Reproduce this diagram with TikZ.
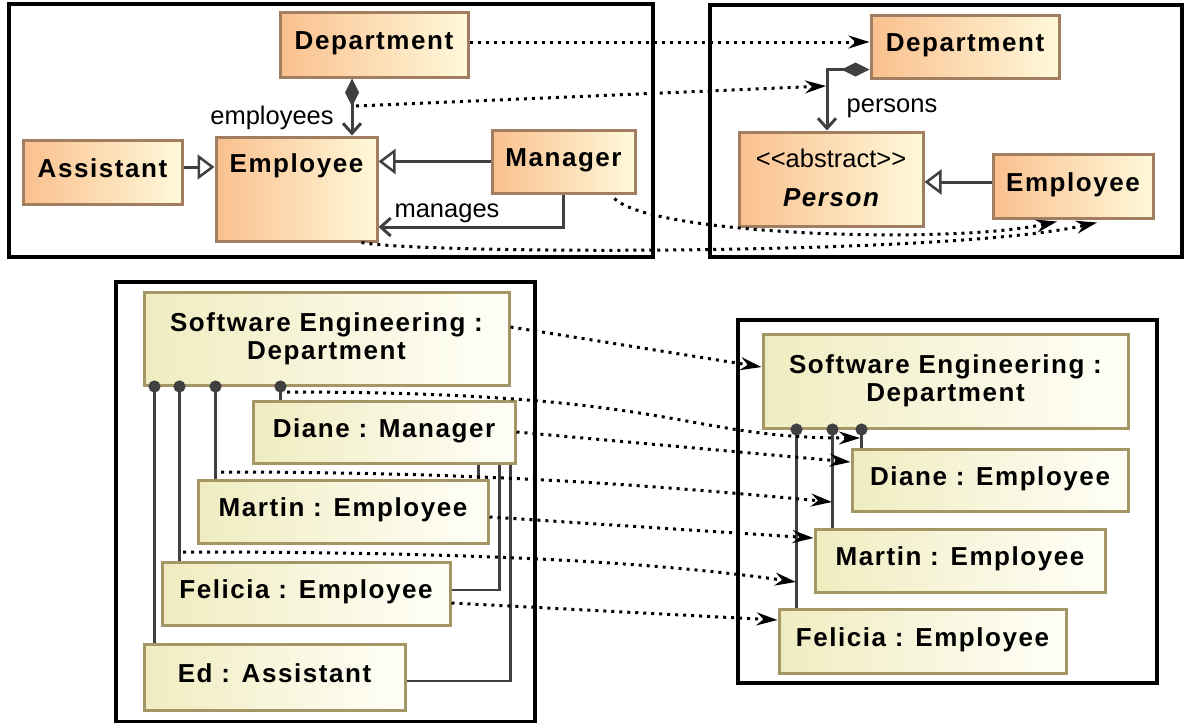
\documentclass[tikz,border=0pt]{standalone}
\usepackage{fontspec}
\setmainfont{Liberation Sans}
\newfontfamily\spacedfont{Liberation Sans}[LetterSpace=6]
\usetikzlibrary{arrows.meta,calc}

\definecolor{clsL}{RGB}{250,192,142}
\definecolor{clsR}{RGB}{255,249,218}
\definecolor{clsB}{RGB}{160,126,95}
\definecolor{objL}{RGB}{240,236,192}
\definecolor{objR}{RGB}{255,255,248}
\definecolor{objB}{RGB}{165,150,102}
\definecolor{lnk}{RGB}{64,64,64}

\begin{document}
\begin{tikzpicture}[x=1pt,y=-1pt,
  frame/.style={draw=black, line width=3.5pt},
  bold/.style={font=\spacedfont\bfseries\fontsize{26}{28}\selectfont, inner sep=0pt},
  boxbase/.style={bold, line width=3pt, inner sep=0pt},
  oneline/.style={text height=19pt, text depth=9pt},
  cls/.style={boxbase, draw=clsB, left color=clsL, right color=clsR},
  obj/.style={boxbase, draw=objB, left color=objL, right color=objR},
  conn/.style={draw=lnk, line width=3pt},
  lbl/.style={font=\fontsize{25.5}{28}\selectfont, inner sep=0pt},
  map/.style={draw=black, line width=3pt, dash pattern=on 3pt off 5pt, -{Stealth[length=21pt,width=13pt,inset=7pt]}},
  gen/.style={conn, -{Triangle[length=17pt,width=25pt,line width=2.5pt,fill=white]}},
  comp/.style={conn, {Diamond[length=28pt,width=14pt]}-{Straight Barb[length=10pt,width=18pt]}},
  link/.style={draw=lnk, line width=2.7pt},
  dotlink/.style={link, {Circle[length=12pt]}-},
]
\useasboundingbox (0,0) rectangle (1186,724);

% frames
\draw[frame] (9,4) rectangle (653,257);
\draw[frame] (710,5) rectangle (1182,257);
\draw[frame] (116,282) rectangle (535,721.5);
\draw[frame] (738,320) rectangle (1157,683);

% ---------- top left: class diagram ----------
\node[cls, oneline, minimum width=188pt, minimum height=65pt] (deptA) at (374,44.5) {Department};
\node[cls, minimum width=161pt, minimum height=104pt] (empA) at (296.5,189) {};
\node[bold, anchor=base] (empAt) at (296.5,172) {Employee};
\node[cls, oneline, minimum width=159pt, minimum height=64pt] (asst) at (102.5,172) {Assistant};
\node[cls, oneline, minimum width=143pt, minimum height=63pt] (mgr) at (563.5,161.5) {Manager};

\draw[comp] ([xshift=-22pt]deptA.south) -- ([xshift=-22pt]deptA.south |- empA.north);
\node[lbl, anchor=base] (lEmp) at (272,124) {employees};
\draw[gen] ([yshift=5pt]asst.east) -- ([yshift=5pt]asst.east -| empA.west);
\draw[gen] (mgr.west) -- (mgr.west -| empA.east);
\draw[conn, -{Straight Barb[length=10pt,width=18pt]}] (mgr.south) |- ([yshift=-38pt]empA.east);
\node[lbl, anchor=base] (lMan) at (447,217) {manages};

% ---------- top right: class diagram ----------
\node[cls, oneline, minimum width=188pt, minimum height=63pt] (deptB) at (965,46.5) {Department};
\node[cls, minimum width=184pt, minimum height=94pt] (person) at (831,179) {};
\node[lbl, anchor=base] (perA) at (831,167) {<{}<abstract>{}>};
\node[bold, font=\spacedfont\bfseries\itshape\fontsize{26}{28}\selectfont, anchor=base] (perN) at (831,206) {Person};
\node[cls, oneline, minimum width=160pt, minimum height=64pt] (empB) at (1073,186) {Employee};

\draw[comp] ([yshift=10pt]deptB.south west) -| ([xshift=-4pt]person.north);
\node[lbl, anchor=base] (lPer) at (892,112) {persons};
\draw[gen] ([yshift=4pt]empB.west) -- ([yshift=4pt]empB.west -| person.east);

% ---------- mappings top ----------
\coordinate (cmpA) at (356,106);
\coordinate (cmpB) at (826,86);
\draw[map] ([yshift=2.5pt]deptA.east) -- ([yshift=4.5pt]deptB.west);
\draw[map] (cmpA) -- (cmpB);
\draw[map] ([xshift=-22pt,yshift=-4pt]mgr.south east) .. controls (650,235) and (950,245) .. ([xshift=-16pt,yshift=-2pt]empB.south);
\draw[map] ([xshift=-17pt]empA.south east) .. controls (420,254) and (950,256) .. ([xshift=24pt,yshift=-3pt]empB.south);

% ---------- bottom left: object diagram ----------
\node[obj, align=center, minimum width=365pt, minimum height=93pt] (seA) at (326.5,338.5) {Software Engineering :\\Department};
\node[obj, oneline, minimum width=262pt, minimum height=62pt] (dianeA) at (384,432) {Diane : Manager};
\node[obj, oneline, minimum width=290pt, minimum height=63pt] (martinA) at (343,511.5) {Martin : Employee};
\node[obj, oneline, minimum width=288pt, minimum height=63pt] (feliciaA) at (306,593.5) {Felicia : Employee};
\node[obj, oneline, minimum width=261pt, minimum height=66pt] (edA) at (274.5,677) {Ed : Assistant};

\draw[dotlink] ([xshift=12pt,yshift=6pt]seA.south west) -- ([xshift=12pt]seA.south west |- edA.north);
\draw[dotlink] ([xshift=37pt,yshift=6pt]seA.south west) -- ([xshift=37pt]seA.south west |- feliciaA.north);
\draw[dotlink] ([xshift=73pt,yshift=6pt]seA.south west) -- ([xshift=73pt]seA.south west |- martinA.north);
\draw[dotlink] ([xshift=138pt,yshift=6pt]seA.south west) -- ([xshift=138pt]seA.south west |- dianeA.north);
\draw[link] ([xshift=-38pt]dianeA.south east) -- ([xshift=-38pt]dianeA.south east |- martinA.north);
\draw[link] ([xshift=-17pt]dianeA.south east) |- ([yshift=3.5pt]feliciaA.east);
\draw[link] ([xshift=-6pt]dianeA.south east) |- ([yshift=-4pt]edA.east);

% ---------- bottom right: object diagram ----------
\node[obj, align=center, minimum width=365pt, minimum height=94pt] (seB) at (945.5,381) {Software Engineering :\\Department};
\node[obj, oneline, minimum width=276pt, minimum height=62pt] (dianeB) at (990,480) {Diane : Employee};
\node[obj, oneline, minimum width=290pt, minimum height=63pt] (martinB) at (960,560.5) {Martin : Employee};
\node[obj, oneline, minimum width=287pt, minimum height=64pt] (feliciaB) at (922.5,641) {Felicia : Employee};

\draw[dotlink] ([xshift=35pt,yshift=6pt]seB.south west) -- ([xshift=35pt]seB.south west |- feliciaB.north);
\draw[dotlink] ([xshift=71pt,yshift=6pt]seB.south west) -- ([xshift=71pt]seB.south west |- martinB.north);
\draw[dotlink] ([xshift=100pt,yshift=6pt]seB.south west) -- ([xshift=100pt]seB.south west |- dianeB.north);

% ---------- mappings bottom ----------
\coordinate (lkDA) at (287,392);
\coordinate (lkDB) at (860,438);
\coordinate (lkMA) at (221,472);
\coordinate (lkMB) at (832,502);
\coordinate (lkFA) at (183,552);
\coordinate (lkFB) at (796,582);
\draw[map] ([yshift=11.5pt]seA.east) -- ([yshift=14pt]seB.west);
\draw[map] (lkDA) .. controls (680,392) and (680,438) .. (lkDB);
\draw[map] (dianeA.east) -- ([yshift=18pt]dianeB.west);
\draw[map] (lkMA) .. controls (480,472) and (650,485) .. (lkMB);
\draw[map] ([yshift=-5.5pt]martinA.east) -- ([yshift=22.5pt]martinB.west);
\draw[map] (lkFA) .. controls (450,552) and (640,560) .. (lkFB);
\draw[map] ([yshift=-9.5pt]feliciaA.east) -- ([yshift=21pt]feliciaB.west);
\end{tikzpicture}
\end{document}
